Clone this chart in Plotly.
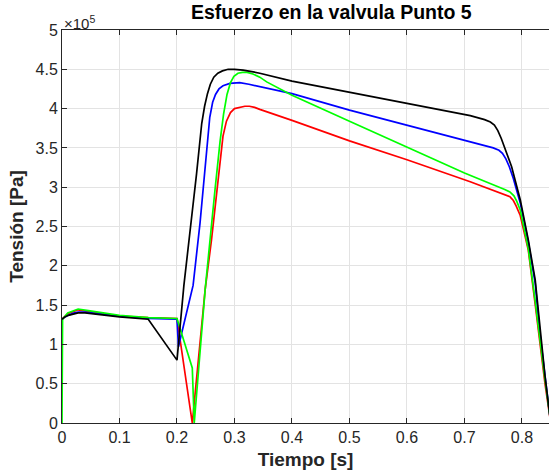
import plotly.graph_objects as go

# Time [s] and stress [x1e5 Pa] for each curve
x_black = [0, 0.005, 0.011, 0.02, 0.028, 0.04, 0.07, 0.1, 0.15, 0.2, 0.212, 0.223, 0.234, 0.243,
           0.248, 0.253, 0.258, 0.264, 0.271, 0.279, 0.289, 0.3, 0.315, 0.33, 0.344, 0.4, 0.5,
           0.6, 0.71, 0.735, 0.745, 0.752, 0.758, 0.764, 0.77, 0.782, 0.797, 0.811, 0.823,
           0.831, 0.84, 0.85]
y_black = [1.32, 1.35, 1.37, 1.39, 1.40, 1.40, 1.375, 1.35, 1.32, 0.80, 1.75, 2.45, 3.17, 3.81,
           4.03, 4.19, 4.31, 4.40, 4.45, 4.48, 4.50, 4.50, 4.49, 4.47, 4.45, 4.35, 4.21,
           4.07, 3.91, 3.86, 3.83, 3.79, 3.72, 3.62, 3.50, 3.26, 2.84, 2.33, 1.82,
           1.20, 0.60, 0.0]

x_blue = [0, 0.005, 0.011, 0.02, 0.028, 0.04, 0.07, 0.1, 0.15, 0.2, 0.2025, 0.228, 0.24, 0.249,
          0.257, 0.262, 0.267, 0.273, 0.28, 0.292, 0.309, 0.325, 0.344, 0.4, 0.5, 0.6, 0.71,
          0.75, 0.76, 0.766, 0.772, 0.778, 0.785, 0.797, 0.811, 0.823, 0.831, 0.84, 0.85]
y_blue = [1.32, 1.35, 1.37, 1.40, 1.41, 1.41, 1.385, 1.36, 1.33, 1.32, 0.97, 1.75, 2.54, 3.26,
          3.89, 4.08, 4.18, 4.25, 4.29, 4.32, 4.33, 4.31, 4.28, 4.19, 3.98, 3.79, 3.58,
          3.50, 3.47, 3.43, 3.36, 3.26, 3.11, 2.80, 2.30, 1.78, 1.15, 0.58, 0.0]

x_red = [0, 0.01, 0.028, 0.046, 0.1, 0.15, 0.2, 0.2266, 0.249, 0.26, 0.272, 0.28, 0.286, 0.293,
         0.3, 0.309, 0.318, 0.326, 0.335, 0.344, 0.4, 0.5, 0.6, 0.71, 0.77, 0.779, 0.785, 0.79,
         0.797, 0.811, 0.823, 0.831, 0.84, 0.85]
y_red = [1.32, 1.39, 1.44, 1.42, 1.36, 1.34, 1.33, 0.0, 1.70, 2.33, 3.17, 3.65, 3.84, 3.95,
         4.00, 4.02, 4.03, 4.03, 4.015, 3.99, 3.85, 3.59, 3.35, 3.07, 2.91, 2.88, 2.83, 2.76,
         2.64, 2.20, 1.51, 1.00, 0.50, 0.0]

x_green = [0, 0.001, 0.01, 0.028, 0.046, 0.1, 0.15, 0.2, 0.2266, 0.230, 0.249, 0.257, 0.266,
           0.275, 0.281, 0.287, 0.293, 0.299, 0.306, 0.314, 0.322, 0.332, 0.344, 0.356, 0.4,
           0.5, 0.6, 0.7, 0.77, 0.779, 0.786, 0.791, 0.797, 0.811, 0.823, 0.831, 0.84, 0.85]
y_green = [0.0, 1.32, 1.40, 1.45, 1.43, 1.37, 1.34, 1.33, 0.70, 0.0, 1.70, 2.33, 2.96,
           3.59, 3.93, 4.18, 4.33, 4.41, 4.45, 4.46, 4.46, 4.44, 4.40, 4.34, 4.17,
           3.84, 3.51, 3.18, 2.97, 2.94, 2.89, 2.82, 2.71, 2.22, 1.55, 1.05, 0.55, 0.02]

x_ticks = [0, 0.1, 0.2, 0.3, 0.4, 0.5, 0.6, 0.7, 0.8]
y_ticks = [0, 0.5, 1, 1.5, 2, 2.5, 3, 3.5, 4, 4.5, 5]

series = [
    (x_red, y_red, "#ff0000"),
    (x_blue, y_blue, "#0000ff"),
    (x_green, y_green, "#00ff00"),
    (x_black, y_black, "#000000"),
]

fig = go.Figure()
for xs, ys, col in series:
    fig.add_trace(go.Scatter(x=xs, y=ys, mode="lines",
                             line=dict(color=col, width=1.7), showlegend=False))

font_family = "Liberation Sans, Arial, sans-serif"
axis_col = "#262626"

fig.update_layout(
    width=549, height=472,
    margin=dict(l=62, r=0, t=30, b=49),
    paper_bgcolor="white", plot_bgcolor="white",
    font=dict(family=font_family, size=16, color=axis_col),
    title=dict(text="<b>Esfuerzo en la valvula Punto 5</b>", x=0.553, xanchor="center",
               xref="paper", y=0.974, yanchor="middle",
               font=dict(size=19.5, color="#000000")),
    xaxis=dict(range=[0, 0.847], tickvals=x_ticks, ticktext=[("%g" % v) for v in x_ticks],
               showgrid=True, gridcolor="#e3e3e3", gridwidth=1,
               showline=True, linecolor=axis_col, linewidth=1, mirror="ticks",
               ticks="inside", ticklen=5, tickcolor=axis_col, zeroline=False,
               title=dict(text="<b>Tiempo [s]</b>", font=dict(size=19, color=axis_col), standoff=7),
               tickfont=dict(size=16, color=axis_col)),
    yaxis=dict(range=[0, 5], tickvals=y_ticks, ticktext=[("%g" % v) for v in y_ticks],
               showgrid=True, gridcolor="#e3e3e3", gridwidth=1,
               showline=True, linecolor=axis_col, linewidth=1,
               ticks="inside", ticklen=5, tickcolor=axis_col, zeroline=False,
               title=dict(text="<b>Tensión [Pa]</b>", font=dict(size=19, color=axis_col), standoff=6),
               tickfont=dict(size=16, color=axis_col)),
)

fig.add_annotation(text="×10<sup>5</sup>", xref="paper", yref="paper", x=0.0, y=1.0,
                   xanchor="left", yanchor="bottom", showarrow=False,
                   font=dict(size=15, color=axis_col), xshift=0, yshift=-4)

fig.write_html("out.html")
